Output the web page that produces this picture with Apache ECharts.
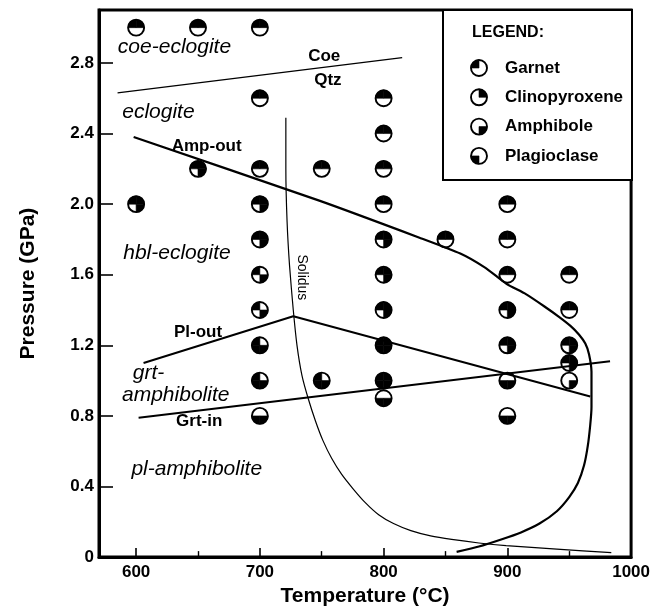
<!DOCTYPE html>
<html>
<head>
<meta charset="utf-8">
<title>P-T diagram</title>
<script src="https://cdn.jsdelivr.net/npm/echarts@6.0.0/dist/echarts.min.js"></script>
<style>
	body { margin: 0; background: #fff; }
	#container { width: 653px; height: 612px; }
</style>
</head>
<body>
<div id="container"></div>
<script>
// experiments: temperature (°C), pressure (GPa)
var expT = [600, 650, 700, 700, 800, 800, 650, 700, 750, 800, 600, 700, 800, 900, 700, 800, 850, 900, 700, 800,
	900, 950, 700, 800, 900, 950, 700, 800, 900, 950, 950, 700, 750, 800, 900, 950, 800, 700, 900];
var expP = [3.0, 3.0, 3.0, 2.6, 2.6, 2.4, 2.2, 2.2, 2.2, 2.2, 2.0, 2.0, 2.0, 2.0, 1.8, 1.8, 1.8, 1.8, 1.6, 1.6,
	1.6, 1.6, 1.4, 1.4, 1.4, 1.4, 1.2, 1.2, 1.2, 1.2, 1.1, 1.0, 1.0, 1.0, 1.0, 1.0, 0.9, 0.8, 0.8];
// phases present: G garnet, C clinopyroxene, A amphibole, P plagioclase
var expPhases = ['GC', 'GC', 'GC', 'GC', 'GC', 'GC', 'GCA', 'GC', 'GC', 'GC', 'GCA', 'GCA', 'GC', 'GC', 'GCA', 'GCA', 'GC', 'GC', 'GA', 'GCA',
	'GC', 'GC', 'GA', 'GCA', 'GCA', 'GC', 'GAP', 'GCAP', 'GCA', 'GCA', 'GCA', 'GAP', 'GAP', 'GCAP', 'AP', 'A', 'AP', 'AP', 'AP'];

// reaction curves [T, P]
var coeQtz = [[585, 2.63], [815, 2.83]];
var ampOut = [[598, 2.38], [748, 2.02], [829, 1.81], [862, 1.72], [882, 1.64], [899, 1.55], [915, 1.49], [930, 1.42],
	[942, 1.36], [951, 1.31], [958, 1.26], [963, 1.21], [966, 1.15], [968, 1.05], [968, 0.95], [968, 0.85], [967, 0.75],
	[965, 0.63], [962, 0.52], [957, 0.42], [950, 0.34], [940, 0.26], [926, 0.19], [911, 0.14], [895, 0.10], [877, 0.06], [859, 0.03]];
var plOut = [[606, 1.10], [727, 1.365], [967, 0.91]];
var grtIn = [[602, 0.79], [983, 1.11]];
var solidus = [[721, 2.49], [721, 2.2], [722, 1.9], [724, 1.65], [727, 1.4], [730, 1.2], [734, 1.03], [739, 0.9], [745, 0.77],
	[751, 0.66], [758, 0.56], [766, 0.47], [775, 0.39], [785, 0.31], [796, 0.24], [808, 0.19], [822, 0.15], [838, 0.12],
	[855, 0.10], [877, 0.08], [899, 0.065], [940, 0.045], [984, 0.025]];

// field and curve names
var fieldNames = ['coe-eclogite', 'eclogite', 'hbl-eclogite', 'grt-', 'amphibolite', 'pl-amphibolite'];
var fieldT = [631, 618, 633, 610, 632, 649];
var fieldP = [2.89, 2.52, 1.72, 1.04, 0.92, 0.50];
var curveNames = ['Coe', 'Qtz', 'Amp-out', 'Pl-out', 'Grt-in'];
var curveT = [752, 755, 657, 650, 651];
var curveP = [2.84, 2.70, 2.33, 1.275, 0.77];

var xTicks = [600, 700, 800, 900, 1000];
var xMinorTicks = [650, 750, 850, 950];
var yTicks = [0, 0.4, 0.8, 1.2, 1.6, 2.0, 2.4, 2.8];
var legendNames = ['Garnet', 'Clinopyroxene', 'Amphibole', 'Plagioclase'];

var FONT = '"Liberation Sans", Arial, Helvetica, sans-serif';
var R = 8;
// quadrant of each phase: garnet TL, cpx TR, amphibole BR, plagioclase BL
var QUAD = {
	G: [Math.PI, Math.PI * 1.5],
	C: [Math.PI * 1.5, Math.PI * 2],
	A: [0, Math.PI * 0.5],
	P: [Math.PI * 0.5, Math.PI]
};

function quadrant(cx, cy, a0, a1) {
	var pts = [[cx, cy]];
	for (var k = 0; k <= 12; k++) {
		var a = a0 + (a1 - a0) * k / 12;
		pts.push([cx + R * Math.cos(a), cy + R * Math.sin(a)]);
	}
	return pts;
}

function symbolShapes(cx, cy, phases, z) {
	var list = [{
		type: 'circle',
		shape: {cx: cx, cy: cy, r: R},
		style: {fill: '#fff'},
		z: z
	}];
	for (var i = 0; i < phases.length; i++) {
		var q = QUAD[phases[i]];
		list.push({
			type: 'polygon',
			shape: {points: quadrant(cx, cy, q[0], q[1])},
			style: {fill: '#000', stroke: '#000', lineWidth: 0.6, lineJoin: 'round'},
			z: z
		});
	}
	list.push({
		type: 'circle',
		shape: {cx: cx, cy: cy, r: R},
		style: {fill: 'none', stroke: '#000', lineWidth: 1.9},
		z: z
	});
	return list;
}

function pairs(a, b) {
	return a.map(function (v, i) { return [v, b[i], i]; });
}

var dom = document.getElementById('container');
var myChart = echarts.init(dom);

var legendGraphic = [{
	type: 'rect',
	shape: {x: 443, y: 10, width: 189, height: 170},
	style: {fill: '#fff', stroke: '#000', lineWidth: 2},
	z: 10
}, {
	type: 'text',
	x: 472, y: 33,
	style: {text: 'LEGEND:', font: 'bold 16px ' + FONT, fill: '#000', verticalAlign: 'middle'},
	z: 11
}];
var legendPhases = ['G', 'C', 'A', 'P'];
legendNames.forEach(function (name, i) {
	var cy = 68 + i * 29.3;
	legendGraphic = legendGraphic.concat(symbolShapes(479, cy, legendPhases[i], 11));
	legendGraphic.push({
		type: 'text',
		x: 505, y: cy,
		style: {text: name, font: 'bold 17px ' + FONT, fill: '#000', verticalAlign: 'middle'},
		z: 11
	});
});

option = {
	backgroundColor: '#fff',
	animation: false,
	grid: {
		left: 99, right: 21, top: 10, bottom: 50,
		show: true,
		borderColor: '#000',
		borderWidth: 3,
		backgroundColor: 'transparent'
	},
	xAxis: [{
		type: 'value',
		min: 570, max: 1000,
		name: 'Temperature (°C)',
		nameLocation: 'middle',
		nameGap: 27,
		nameTextStyle: {fontFamily: FONT, fontWeight: 'bold', fontSize: 21, color: '#000'},
		axisLine: {lineStyle: {color: '#000', width: 3}},
		axisTick: {inside: true, length: 9, customValues: xTicks, lineStyle: {color: '#000', width: 1.6}},
		axisLabel: {
			customValues: xTicks, margin: 7,
			fontFamily: FONT, fontWeight: 'bold', fontSize: 17, color: '#000',
			formatter: function (v) { return String(v); }
		},
		splitLine: {show: false}
	}, {
		type: 'value',
		min: 570, max: 1000,
		position: 'bottom',
		axisLine: {show: false},
		axisTick: {inside: true, length: 6, customValues: xMinorTicks, lineStyle: {color: '#000', width: 1.4}},
		axisLabel: {show: false},
		splitLine: {show: false}
	}],
	yAxis: {
		type: 'value',
		min: 0, max: 3.1,
		name: 'Pressure (GPa)',
		nameLocation: 'middle',
		nameGap: 60,
		nameTextStyle: {fontFamily: FONT, fontWeight: 'bold', fontSize: 21, color: '#000'},
		axisLine: {lineStyle: {color: '#000', width: 3}},
		axisTick: {inside: true, length: 14, customValues: yTicks, lineStyle: {color: '#000', width: 1.6}},
		axisLabel: {
			customValues: yTicks,
			margin: 5,
			fontFamily: FONT, fontWeight: 'bold', fontSize: 17, color: '#000',
			formatter: function (v) { return v === 0 ? '0' : v.toFixed(1); }
		},
		splitLine: {show: false}
	},
	graphic: legendGraphic,
	series: [{
		type: 'custom',
		name: 'experiments',
		z: 3,
		data: pairs(expT, expP),
		renderItem: function (params, api) {
			var c = api.coord([api.value(0), api.value(1)]);
			return {type: 'group', children: symbolShapes(c[0], c[1], expPhases[params.dataIndex], 0)};
		}
	}, {
		type: 'line', name: 'Coe-Qtz', data: coeQtz, z: 4,
		symbol: 'none', lineStyle: {color: '#000', width: 1.2}
	}, {
		type: 'line', name: 'Amp-out', data: ampOut, z: 4, smooth: 0.2,
		symbol: 'none', lineStyle: {color: '#000', width: 2.2}
	}, {
		type: 'line', name: 'Pl-out', data: plOut, z: 4,
		symbol: 'none', lineStyle: {color: '#000', width: 2}
	}, {
		type: 'line', name: 'Grt-in', data: grtIn, z: 4,
		symbol: 'none', lineStyle: {color: '#000', width: 2}
	}, {
		type: 'line', name: 'Solidus', data: solidus, z: 4, smooth: 0.2,
		symbol: 'none', lineStyle: {color: '#000', width: 1.2}
	}, {
		type: 'custom',
		name: 'field labels',
		z: 5,
		data: pairs(fieldT, fieldP),
		renderItem: function (params, api) {
			var c = api.coord([api.value(0), api.value(1)]);
			return {
				type: 'text', x: c[0], y: c[1],
				style: {text: fieldNames[params.dataIndex], font: 'italic 21px ' + FONT, fill: '#000', align: 'center', verticalAlign: 'middle'}
			};
		}
	}, {
		type: 'custom',
		name: 'curve labels',
		z: 5,
		data: pairs(curveT, curveP),
		renderItem: function (params, api) {
			var c = api.coord([api.value(0), api.value(1)]);
			return {
				type: 'text', x: c[0], y: c[1],
				style: {text: curveNames[params.dataIndex], font: 'bold 17px ' + FONT, fill: '#000', align: 'center', verticalAlign: 'middle'}
			};
		}
	}, {
		type: 'custom',
		name: 'solidus label',
		z: 5,
		data: [[734, 1.585]],
		renderItem: function (params, api) {
			var c = api.coord([api.value(0), api.value(1)]);
			return {
				type: 'text', x: c[0], y: c[1], rotation: -Math.PI / 2,
				style: {text: 'Solidus', font: '14px ' + FONT, fill: '#000', align: 'center', verticalAlign: 'middle'}
			};
		}
	}]
};

if (option && typeof option === 'object') {
	myChart.setOption(option, true);
}
</script>
</body>
</html>
